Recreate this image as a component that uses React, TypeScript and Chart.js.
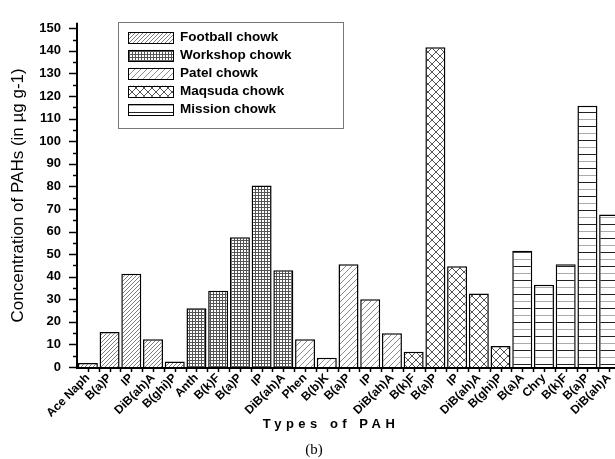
import React, { useEffect, useRef } from "react";
import { Chart, registerables } from "chart.js";

Chart.register(...registerables);

const categories = [
  "Ace Naph", "B(a)P", "IP", "DiB(ah)A", "B(ghi)P",
  "Anth", "B(k)F", "B(a)P", "IP", "DiB(ah)A",
  "Phen", "B(b)K", "B(a)P", "IP", "DiB(ah)A",
  "B(k)F", "B(a)P", "IP", "DiB(ah)A", "B(ghi)P",
  "B(a)A", "Chry", "B(k)F", "B(a)P", "DiB(ah)A",
];
const seriesNames = ["Football chowk", "Workshop chowk", "Patel chowk", "Maqsuda chowk", "Mission chowk"];
const footballValues = [1.8, 15.5, 41.3, 12.3, 2.4];
const workshopValues = [26, 33.8, 57.5, 80.4, 42.9];
const patelValues = [12.3, 4.1, 45.5, 30, 14.9];
const maqsudaValues = [6.7, 141.6, 44.6, 32.5, 9.3];
const missionValues = [51.5, 36.4, 45.5, 115.7, 67.5];
const yTickValues = [0, 10, 20, 30, 40, 50, 60, 70, 80, 90, 100, 110, 120, 130, 140, 150];
const xTitle = "Types of PAH";
const yTitle = "Concentration of PAHs (in \u00b5g g-1)";
const caption = "(b)";

const FONT = "'Liberation Sans', Arial, sans-serif";

function makePattern(kind: string): CanvasPattern | string {
  const c = document.createElement("canvas");
  const g = c.getContext("2d");
  if (!g) return "#fff";
  const diag = (s: number, color: string, lw: number, both: boolean) => {
    c.width = s; c.height = s;
    g.fillStyle = "#fff"; g.fillRect(0, 0, s, s);
    g.strokeStyle = color; g.lineWidth = lw;
    g.beginPath();
    g.moveTo(0, s); g.lineTo(s, 0);
    g.moveTo(-1, 1); g.lineTo(1, -1);
    g.moveTo(s - 1, s + 1); g.lineTo(s + 1, s - 1);
    if (both) {
      g.moveTo(0, 0); g.lineTo(s, s);
      g.moveTo(-1, s - 1); g.lineTo(1, s + 1);
      g.moveTo(s - 1, -1); g.lineTo(s + 1, 1);
    }
    g.stroke();
  };
  if (kind === "diagDense") diag(4, "#707070", 0.9, false);
  else if (kind === "diagSparse") diag(6, "#808080", 0.9, false);
  else if (kind === "cross") diag(8, "#404040", 0.9, true);
  else if (kind === "grid") {
    c.width = 3; c.height = 3;
    g.fillStyle = "#fff"; g.fillRect(0, 0, 3, 3);
    g.fillStyle = "#555";
    g.fillRect(0, 0, 3, 1);
    g.fillRect(0, 0, 1, 3);
  } else if (kind === "horiz") {
    c.width = 4; c.height = 14;
    g.fillStyle = "#fff"; g.fillRect(0, 0, 4, 14);
    g.fillStyle = "#222"; g.fillRect(0, 0, 4, 1);
    g.fillStyle = "#aaa"; g.fillRect(0, 7, 4, 1);
  }
  const p = g.createPattern(c, "repeat");
  return p || "#fff";
}

export default function App() {
  const ref = useRef<HTMLCanvasElement | null>(null);
  useEffect(() => {
    const canvas = ref.current;
    if (!canvas) return;
    const patterns = ["diagDense", "grid", "diagSparse", "cross", "horiz"].map(makePattern);
    const groups = [footballValues, workshopValues, patelValues, maqsudaValues, missionValues];
    let offset = 0;
    const datasets = groups.map((vals, gi) => {
      const data: (number | null)[] = categories.map(() => null);
      vals.forEach((v, i) => { data[offset + i] = v; });
      offset += vals.length;
      return {
        label: seriesNames[gi],
        data,
        backgroundColor: patterns[gi] as any,
        borderColor: "#000",
        borderWidth: 1.5,
        grouped: false,
        barPercentage: 0.92,
        categoryPercentage: 1,
      };
    });

    const decor = {
      id: "decor",
      afterDraw(chart: any) {
        const ctx = chart.ctx as CanvasRenderingContext2D;
        const xs = chart.scales.x;
        const ys = chart.scales.y;
        const a = chart.chartArea;
        ctx.save();
        // y ticks
        ctx.strokeStyle = "#000";
        ctx.lineWidth = 1.5;
        for (let v = 0; v <= 150; v += 5) {
          const py = Math.round(ys.getPixelForValue(v)) + 0.5;
          const len = v % 10 === 0 ? 8 : 4;
          ctx.beginPath();
          ctx.moveTo(a.left - len, py);
          ctx.lineTo(a.left, py);
          ctx.stroke();
        }
        // x ticks
        const half = (xs.getPixelForValue(1) - xs.getPixelForValue(0)) / 2;
        for (let i = 0; i < categories.length; i++) {
          const cx = xs.getPixelForValue(i);
          for (const px of [cx, cx + half]) {
            ctx.beginPath();
            ctx.moveTo(Math.round(px) + 0.5, a.bottom);
            ctx.lineTo(Math.round(px) + 0.5, a.bottom + 5);
            ctx.stroke();
          }
        }
        // axis lines
        ctx.lineWidth = 2;
        ctx.beginPath();
        ctx.moveTo(a.left, a.top - 1);
        ctx.lineTo(a.left, a.bottom + 1);
        ctx.lineTo(a.right, a.bottom + 1);
        ctx.stroke();

        // legend
        ctx.strokeStyle = "#777";
        ctx.lineWidth = 1;
        ctx.strokeRect(118.5, 22.5, 225, 106);
        ctx.font = `bold 13.5px ${FONT}`;
        ctx.textBaseline = "middle";
        ctx.textAlign = "left";
        seriesNames.forEach((name, i) => {
          const cy = 37.5 + i * 17.9;
          ctx.fillStyle = patterns[i] as any;
          ctx.fillRect(128, cy - 5.5, 45, 11);
          ctx.strokeStyle = "#000";
          ctx.lineWidth = 1;
          ctx.strokeRect(128.5, Math.round(cy - 5.5) + 0.5, 45, 11);
          ctx.fillStyle = "#000";
          ctx.fillText(name, 180, cy);
        });

        // y title
        ctx.save();
        ctx.translate(18, (a.top + a.bottom) / 2);
        ctx.rotate(-Math.PI / 2);
        ctx.font = `17px ${FONT}`;
        ctx.textAlign = "center";
        ctx.textBaseline = "middle";
        ctx.fillStyle = "#000";
        ctx.fillText(yTitle, 0, 0);
        ctx.restore();

        // x title
        ctx.font = `bold 13px ${FONT}`;
        (ctx as any).letterSpacing = "4.5px";
        ctx.textAlign = "center";
        ctx.textBaseline = "middle";
        ctx.fillStyle = "#000";
        ctx.fillText(xTitle, 331, 424);
        (ctx as any).letterSpacing = "0px";

        // caption
        ctx.font = `15px 'Liberation Serif', 'Times New Roman', serif`;
        ctx.fillText(caption, 314, 450);
        ctx.restore();
      },
    };

    const chart = new Chart(canvas, {
      type: "bar",
      data: { labels: categories, datasets: datasets as any },
      options: {
        animation: false,
        responsive: false,
        maintainAspectRatio: false,
        layout: { padding: { top: 14, right: 5, left: 0, bottom: 0 } },
        plugins: { legend: { display: false }, tooltip: { enabled: false } },
        scales: {
          x: {
            type: "category",
            offset: true,
            grid: { display: false, drawTicks: false },
            border: { display: false },
            ticks: {
              autoSkip: false,
              maxRotation: 45,
              minRotation: 45,
              padding: 4,
              color: "#000",
              font: { family: FONT, size: 12, weight: "bold" },
            },
            afterFit: (s: any) => { s.height = 92; },
          },
          y: {
            min: 0,
            max: 152,
            grid: { display: false, drawTicks: false },
            border: { display: false },
            afterBuildTicks: (s: any) => { s.ticks = yTickValues.map((v) => ({ value: v })); },
            ticks: {
              padding: 16,
              color: "#000",
              font: { family: FONT, size: 13, weight: "bold" },
            },
            afterFit: (s: any) => { s.width = 77; },
          },
        },
      },
      plugins: [decor],
    });
    return () => chart.destroy();
  }, []);

  return (
    <div style={{ position: "fixed", left: 0, top: 0, width: 615, height: 459, overflow: "hidden", background: "#fff" }}>
      <canvas ref={ref} width={625} height={459} style={{ display: "block" }} />
    </div>
  );
}
